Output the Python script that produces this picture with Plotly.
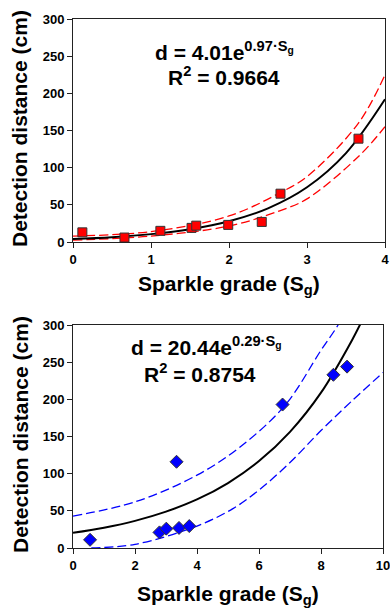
import plotly.graph_objects as go

W, H = 390, 609
FONT = "Arial, 'Liberation Sans', sans-serif"

# ---------- Panel A (red squares) ----------
a_x = [0.12, 0.66, 1.12, 1.52, 1.58, 1.99, 2.42, 2.66, 3.66]
a_y = [13, 6, 15, 19, 22, 23, 27, 65, 139]
a_fit_x = [0, 0.5, 1, 1.5, 2, 2.5, 3, 3.5, 4]
a_fit_y = [4.0, 6.5, 10.6, 17.2, 27.9, 45.3, 73.6, 119.6, 192]
a_up_x = [0, 1, 2, 2.65, 3, 3.66, 4]
a_up_y = [8, 14, 35, 66, 88, 160, 225]
a_lo_x = [0, 1, 2, 2.65, 3, 3.66, 4]
a_lo_y = [2.5, 8, 21.5, 42, 58, 115, 155]
a_eq = "d = 4.01e<sup>0.97·S<sub>g</sub></sup>"
a_r2 = "R<sup>2</sup> = 0.9664"
a_xticks = [0, 1, 2, 3, 4]

# ---------- Panel B (blue diamonds) ----------
b_x = [0.55, 2.79, 3.01, 3.34, 3.42, 3.75, 6.76, 8.40, 8.84]
b_y = [11, 21, 26, 116, 27, 29.5, 193, 233, 244]
b_fit_x = [0, 1, 2, 3, 4, 5, 6, 7, 8, 9, 9.5]
b_fit_y = [20.4, 27.3, 36.5, 48.9, 65.3, 87.4, 116.9, 156.3, 209, 279.6, 321]
b_up_x = [0, 2, 4, 5.39, 6.84, 8, 8.55, 9]
b_up_y = [43, 62, 98, 136, 192, 266, 300, 335]
b_lo_x = [0.59, 2, 4, 5.16, 6, 7, 8, 9, 10]
b_lo_y = [0, 5, 29.5, 53, 78, 115, 158, 198, 236]
b_eq = "d = 20.44e<sup>0.29·S<sub>g</sub></sup>"
b_r2 = "R<sup>2</sup> = 0.8754"
b_xticks = [0, 2, 4, 6, 8, 10]

y_ticks = [0, 50, 100, 150, 200, 250, 300]
x_title = "Sparkle grade (S<sub>g</sub>)"
y_title = "Detection distance (cm)"

fig = go.Figure()

def band(x, y, color, xa, ya):
    fig.add_trace(go.Scatter(x=x, y=y, mode="lines", xaxis=xa, yaxis=ya,
                             line=dict(color=color, width=1.3, dash="9px,4px", shape="spline"),
                             showlegend=False, hoverinfo="skip"))

# Panel A
band(a_up_x, a_up_y, "#FF0000", "x", "y")
band(a_lo_x, a_lo_y, "#FF0000", "x", "y")
fig.add_trace(go.Scatter(x=a_fit_x, y=a_fit_y, mode="lines", xaxis="x", yaxis="y",
                         line=dict(color="black", width=2, shape="spline"), showlegend=False))
fig.add_trace(go.Scatter(x=a_x, y=a_y, mode="markers", xaxis="x", yaxis="y",
                         marker=dict(symbol="square", size=9, color="#FF0000",
                                     line=dict(color="#333333", width=1)),
                         showlegend=False, cliponaxis=False))

# Panel B
band(b_up_x, b_up_y, "#0000FF", "x2", "y2")
band(b_lo_x, b_lo_y, "#0000FF", "x2", "y2")
fig.add_trace(go.Scatter(x=b_fit_x, y=b_fit_y, mode="lines", xaxis="x2", yaxis="y2",
                         line=dict(color="black", width=2, shape="spline"), showlegend=False))
fig.add_trace(go.Scatter(x=b_x, y=b_y, mode="markers", xaxis="x2", yaxis="y2",
                         marker=dict(symbol="diamond", size=10, color="#0000FF",
                                     line=dict(color="#333333", width=1)),
                         showlegend=False, cliponaxis=False))

tickfont = dict(family=FONT, size=13, color="black", weight="bold")

def xax(domain, rng, ticks, anchor):
    return dict(domain=domain, range=rng, tickvals=ticks, ticktext=[str(t) for t in ticks],
                ticks="outside", ticklen=5, tickcolor="#222", tickwidth=1,
                showline=True, linecolor="#222", linewidth=1, mirror=True,
                showgrid=False, zeroline=False, tickfont=tickfont, anchor=anchor,
                fixedrange=True, automargin=False, ticklabeloverflow="allow")

def yax(domain, anchor):
    return dict(domain=domain, range=[0, 300], tickvals=y_ticks, ticktext=[str(t) for t in y_ticks],
                ticks="outside", ticklen=5, tickcolor="#222", tickwidth=1,
                showline=True, linecolor="#222", linewidth=1, mirror=True,
                showgrid=False, zeroline=False, tickfont=tickfont, anchor=anchor,
                fixedrange=True, automargin=False, ticklabeloverflow="allow")

def px(v):
    return v / W

def py(v):
    return 1 - v / H

fig.update_layout(
    template="none",
    width=W, height=H, margin=dict(l=0, r=0, t=0, b=0, pad=0, autoexpand=False),
    paper_bgcolor="white", plot_bgcolor="white",
    xaxis=xax([px(73), px(385)], [0, 4], a_xticks, "y"),
    yaxis=yax([py(242), py(19)], "x"),
    xaxis2=xax([px(73), px(383)], [0, 10], b_xticks, "y2"),
    yaxis2=yax([py(548), py(325)], "x2"),
    showlegend=False,
)

tfont = dict(family=FONT, size=21, color="black", weight="bold")
efont = dict(family=FONT, size=21, color="black", weight="bold")

anns = [
    # panel A
    dict(text=y_title, x=px(20), y=py(129), textangle=-90, font=tfont),
    dict(text=x_title, x=px(229), y=py(285), font=tfont),
    dict(text=a_eq, x=px(225), y=py(51), font=efont),
    dict(text=a_r2, x=px(224), y=py(76), font=efont),
    # panel B
    dict(text=y_title, x=px(20), y=py(435), textangle=-90, font=tfont),
    dict(text=x_title, x=px(228), y=py(595), font=tfont),
    dict(text=b_eq, x=px(206), y=py(346), font=efont),
    dict(text=b_r2, x=px(200), y=py(373), font=efont),
]
for a in anns:
    a.update(xref="paper", yref="paper", xanchor="center", yanchor="middle", showarrow=False)
fig.update_layout(annotations=anns)

# remove the page's default body margin so the 390x609 figure fills the window exactly
page_js = ("document.body.style.margin='0px';"
           "document.body.style.overflow='hidden';"
           "document.documentElement.style.overflow='hidden';")

fig.write_html("out.html", post_script=page_js, config={"displayModeBar": False})
